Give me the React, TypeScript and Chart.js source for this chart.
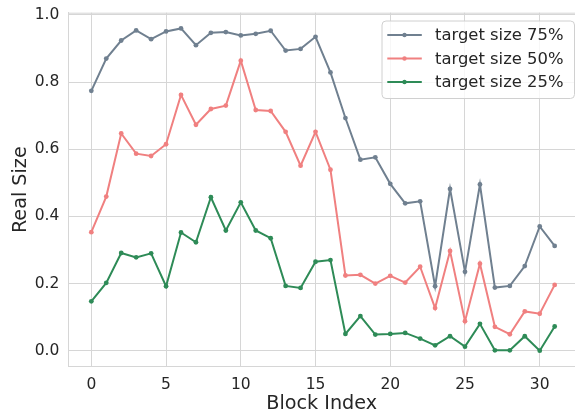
import { useEffect, useRef } from 'react';
import { Chart, registerables } from 'chart.js';

Chart.register(...registerables);

const blockIndex = [0, 1, 2, 3, 4, 5, 6, 7, 8, 9, 10, 11, 12, 13, 14, 15, 16, 17, 18, 19, 20, 21, 22, 23, 24, 25, 26, 27, 28, 29, 30, 31];

const size75 = [0.774, 0.870, 0.924, 0.954, 0.928, 0.951, 0.960, 0.910, 0.947, 0.949, 0.939, 0.944, 0.953, 0.894, 0.899, 0.935,
  0.829, 0.693, 0.569, 0.576, 0.497, 0.439, 0.445, 0.192, 0.482, 0.235, 0.495, 0.188, 0.193, 0.252, 0.370, 0.312];

const size50 = [0.353, 0.459, 0.647, 0.587, 0.580, 0.615, 0.762, 0.673, 0.720, 0.730, 0.864, 0.717, 0.714, 0.652, 0.551, 0.652,
  0.539, 0.224, 0.226, 0.200, 0.223, 0.203, 0.250, 0.127, 0.297, 0.088, 0.259, 0.071, 0.049, 0.117, 0.110, 0.196];

const size25 = [0.147, 0.202, 0.291, 0.278, 0.290, 0.192, 0.352, 0.323, 0.457, 0.358, 0.442, 0.358, 0.335, 0.193, 0.187, 0.265,
  0.270, 0.050, 0.103, 0.048, 0.050, 0.053, 0.036, 0.016, 0.043, 0.012, 0.080, 0.001, 0.001, 0.043, 0.000, 0.072];

const seriesLabels = ['target size 75%', 'target size 50%', 'target size 25%'];
const xTickValues = [0, 5, 10, 15, 20, 25, 30];
const yTickValues = [0.0, 0.2, 0.4, 0.6, 0.8, 1.0];

const COLORS = ['#708090', '#F08080', '#2E8B57'];
const TEXT = '#262626';
const GRID = '#d6d6d6';
const FONT = "'DejaVu Sans', sans-serif";

const TARGET_AREA = { left: 68.3, top: 12.7, right: 575, bottom: 366.7 };

const topSpine = {
  id: 'topSpine',
  beforeDatasetsDraw(chart: any) {
    const { ctx, chartArea } = chart;
    ctx.save();
    ctx.strokeStyle = GRID;
    ctx.lineWidth = 1;
    ctx.beginPath();
    ctx.moveTo(chartArea.left, chartArea.top + 0.5);
    ctx.lineTo(chartArea.right, chartArea.top + 0.5);
    ctx.stroke();
    ctx.restore();
  },
};

const boxLegend = {
  id: 'boxLegend',
  afterDraw(chart: any) {
    const { ctx, chartArea } = chart;
    const w = 192.5;
    const h = 77.5;
    const x0 = chartArea.right - w - 0.5;
    const y0 = chartArea.top + 8.3;
    ctx.save();
    ctx.beginPath();
    (ctx as any).roundRect(x0, y0, w, h, 4);
    ctx.fillStyle = 'rgba(255,255,255,0.8)';
    ctx.fill();
    ctx.strokeStyle = '#d0d0d0';
    ctx.lineWidth = 1;
    ctx.stroke();
    chart.data.datasets.forEach((ds: any, i: number) => {
      const cy = y0 + 14 + i * 23.5;
      const lx = x0 + 5.3;
      ctx.strokeStyle = ds.borderColor;
      ctx.lineWidth = 2;
      ctx.beginPath();
      ctx.moveTo(lx, cy);
      ctx.lineTo(lx + 34.5, cy);
      ctx.stroke();
      ctx.fillStyle = ds.borderColor;
      ctx.beginPath();
      ctx.arc(lx + 17.2, cy, 2.2, 0, Math.PI * 2);
      ctx.fill();
      ctx.fillStyle = TEXT;
      ctx.font = `16.4px ${FONT}`;
      ctx.textBaseline = 'middle';
      ctx.textAlign = 'left';
      ctx.fillText(ds.label, x0 + 53, cy + 1);
    });
    ctx.restore();
  },
};

export default function App() {
  const ref = useRef<HTMLCanvasElement>(null);

  useEffect(() => {
    document.body.style.margin = '0';
    const series = [size75, size50, size25];
    const pad = { top: 12.7, left: 0, right: 0, bottom: 0 };
    const chart = new Chart(ref.current as HTMLCanvasElement, {
      type: 'line',
      data: {
        datasets: series.map((vals, i) => ({
          label: seriesLabels[i],
          data: blockIndex.map((b, j) => ({ x: b, y: vals[j] })),
          borderColor: COLORS[i],
          backgroundColor: COLORS[i],
          borderWidth: 2,
          pointRadius: 2.4,
          pointBorderWidth: 0,
          pointBackgroundColor: COLORS[i],
          tension: 0,
          fill: false,
        })),
      },
      options: {
        animation: false,
        responsive: false,
        maintainAspectRatio: false,
        layout: { padding: pad, autoPadding: false },
        plugins: {
          legend: { display: false },
          tooltip: { enabled: false },
        },
        scales: {
          x: {
            type: 'linear',
            min: -1.54,
            max: 32.36,
            afterFit: (s: any) => { s.height = 45.3; s.paddingLeft = 0; s.paddingRight = 0; },
            afterBuildTicks: (s: any) => { s.ticks = xTickValues.map((v) => ({ value: v })); },
            grid: { color: GRID, lineWidth: 1, drawTicks: false },
            border: { display: true, color: GRID, width: 1 },
            ticks: {
              color: TEXT,
              font: { family: FONT, size: 15.5 },
              padding: 9,
              maxRotation: 0,
              callback: (v: any) => String(v),
            },
            title: {
              display: true,
              text: 'Block Index',
              color: TEXT,
              font: { family: FONT, size: 19.2, lineHeight: 1.0 },
              padding: { top: 0, bottom: -2 },
            },
          },
          y: {
            type: 'linear',
            min: -0.0477,
            max: 1.0068,
            afterFit: (s: any) => { s.width = 68.3; s.paddingTop = 0; s.paddingBottom = 0; },
            afterBuildTicks: (s: any) => { s.ticks = yTickValues.map((v) => ({ value: v })); },
            grid: { color: GRID, lineWidth: 1, drawTicks: false },
            border: { display: true, color: GRID, width: 1 },
            ticks: {
              color: TEXT,
              font: { family: FONT, size: 15.5 },
              padding: 9,
              callback: (v: any) => Number(v).toFixed(1),
            },
            title: {
              display: true,
              text: 'Real Size',
              color: TEXT,
              font: { family: FONT, size: 19.2, lineHeight: 1.2 },
              padding: { top: 9, bottom: 0 },
            },
          },
        },
      },
      plugins: [topSpine, boxLegend],
    });
    for (let k = 0; k < 4; k++) {
      const ca = chart.chartArea;
      const dTop = TARGET_AREA.top - ca.top;
      const dRight = ca.right - TARGET_AREA.right;
      const dLeft = TARGET_AREA.left - ca.left;
      const dBottom = ca.bottom - TARGET_AREA.bottom;
      if (Math.abs(dTop) < 0.05 && Math.abs(dRight) < 0.05 && Math.abs(dLeft) < 0.05 && Math.abs(dBottom) < 0.05) break;
      pad.top += dTop;
      pad.right += dRight;
      pad.left += dLeft;
      pad.bottom += dBottom;
      (chart.options as any).layout.padding = { ...pad };
      chart.update();
    }
    return () => chart.destroy();
  }, []);

  return <canvas ref={ref} width={575} height={412} style={{ display: 'block' }} />;
}
